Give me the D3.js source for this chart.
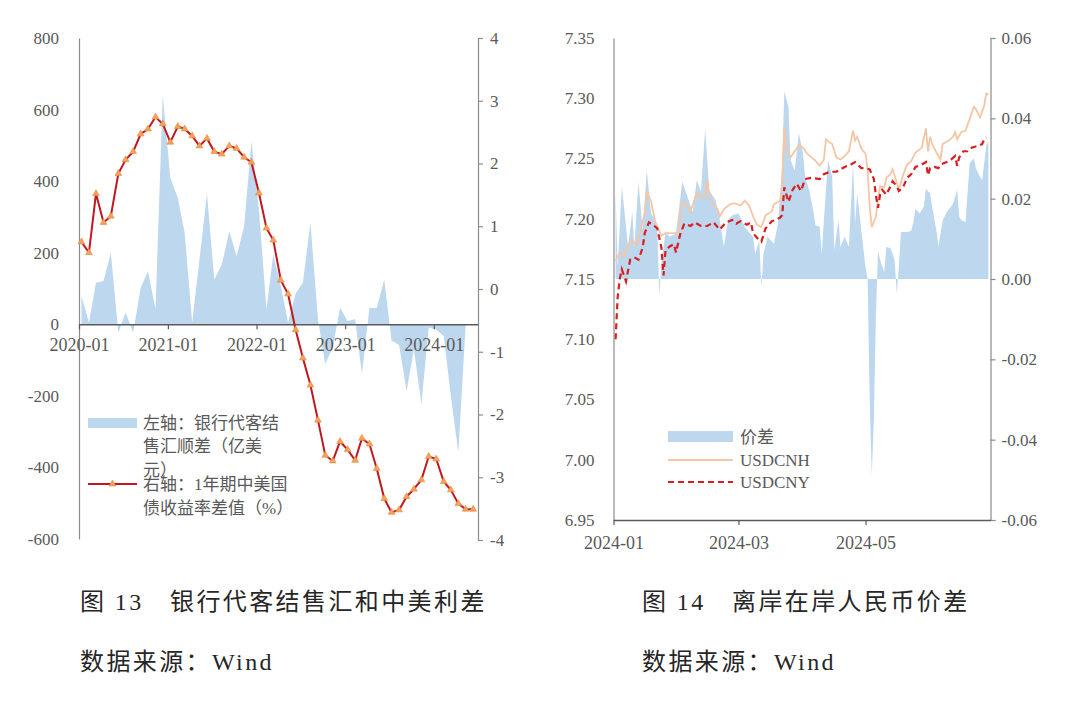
<!DOCTYPE html>
<html>
<head>
<meta charset="utf-8">
<script src="https://cdn.jsdelivr.net/npm/d3@7"></script>
<style>
  body { margin: 0; background: #fff; }
  text { font-family: "Liberation Serif", "Noto Sans CJK SC", serif; }
</style>
</head>
<body>
<div id="chart-area"></div>
<script>
// ---------------- 图13 data: monthly, 2020-01 .. 2024-06 ----------------
const firstMonth13 = "2020-01";
const endMonth13 = "2024-07"; // axis end
// 左轴：银行代客结售汇顺差（亿美元）, 2020-01 .. 2024-05
const fxSurplus = [79, 5, 116, 121, 200, -23, 33, -23, 102, 149, 42, 641,
  409, 353, 256, 5, 180, 365, 125, 167, 260, 190, 274, 511,
  320, 42, 195, 107, 5, 86, 116, 284, 15, -111, -65, 46,
  9, 14, -139, 46, 45, 125, -45, -58, -186, -70, -223, -9,
  -15, -33, -200, -358, -5];
// 右轴：1年期中美国债收益率差值（%）, 2020-01 .. 2024-06
const yieldGap = [0.75, 0.58, 1.52, 1.06, 1.16, 1.84, 2.06, 2.19, 2.47, 2.55, 2.74, 2.63,
  2.34, 2.59, 2.55, 2.44, 2.28, 2.40, 2.19, 2.15, 2.28, 2.24, 2.10, 2.02,
  1.53, 0.97, 0.78, 0.14, -0.08, -0.65, -1.10, -1.53, -2.09, -2.65, -2.74, -2.43,
  -2.56, -2.73, -2.38, -2.47, -2.86, -3.34, -3.56, -3.52, -3.31, -3.19, -3.04, -2.67,
  -2.71, -3.07, -3.20, -3.42, -3.51, -3.51];
const yearTicks13 = ["2020-01", "2021-01", "2022-01", "2023-01", "2024-01"];
const leftTicks13 = [-600, -400, -200, 0, 200, 400, 600, 800];
const rightTicks13 = [-4, -3, -2, -1, 0, 1, 2, 3, 4];

// ---------------- 图14 data: daily, 2024 ----------------
// 价差 (right axis)
const spreadSeries = [
  ["01-02", 0.0215], ["01-03", 0.003], ["01-05", 0.0231], ["01-08", 0.008], ["01-10", 0.0167],
  ["01-11", 0.008], ["01-13", 0.0242], ["01-15", 0.0121], ["01-17", 0.0271], ["01-19", 0.0163],
  ["01-22", 0.0138], ["01-23", -0.0045], ["01-24", 0.004], ["01-26", 0.0117], ["01-28", 0.0105],
  ["01-31", 0.0113], ["02-01", 0.0155], ["02-03", 0.0242], ["02-05", 0.0213], ["02-08", 0.0167],
  ["02-10", 0.0246], ["02-12", 0.0217], ["02-14", 0.0375], ["02-16", 0.0221], ["02-19", 0.0196],
  ["02-21", 0.0146], ["02-23", 0.008], ["02-25", 0.0146], ["02-27", 0.0159], ["03-01", 0.0163],
  ["03-04", 0.013], ["03-06", 0.0117], ["03-08", 0.0105], ["03-09", 0.0063], ["03-11", 0.0095],
  ["03-12", -0.002], ["03-13", 0.0063], ["03-15", 0.0105], ["03-18", 0.0088], ["03-20", 0.0138],
  ["03-22", 0.0288], ["03-23", 0.0467], ["03-25", 0.0429], ["03-26", 0.0296], ["03-28", 0.0271],
  ["03-30", 0.0363], ["04-01", 0.0313], ["04-02", 0.0254], ["04-04", 0.0221], ["04-06", 0.0167],
  ["04-07", 0.0134], ["04-09", 0.013], ["04-10", 0.0063], ["04-11", 0.0146], ["04-13", 0.0296],
  ["04-15", 0.0254], ["04-16", 0.0072], ["04-18", 0.0146], ["04-19", 0.008], ["04-21", 0.0105],
  ["04-23", 0.008], ["04-25", 0.0288], ["04-26", 0.0138], ["04-27", 0.0213], ["04-29", 0.012],
  ["05-01", 0.003], ["05-02", 0.0], ["05-03", -0.030], ["05-04", -0.049], ["05-05", -0.035],
  ["05-06", -0.009], ["05-07", 0.0072], ["05-08", 0.0047], ["05-10", 0.0017], ["05-11", 0.008],
  ["05-13", 0.0076], ["05-14", 0.0063], ["05-15", 0.0045], ["05-16", -0.0037], ["05-17", 0.003],
  ["05-18", 0.0117], ["05-21", 0.0117], ["05-23", 0.0121], ["05-24", 0.0142], ["05-25", 0.0175],
  ["05-27", 0.0163], ["05-29", 0.018], ["05-30", 0.0225], ["06-01", 0.0213], ["06-02", 0.018],
  ["06-04", 0.0121], ["06-05", 0.008], ["06-07", 0.0146], ["06-09", 0.0167], ["06-11", 0.018],
  ["06-12", 0.0188], ["06-14", 0.0221], ["06-15", 0.0155], ["06-16", 0.0146], ["06-18", 0.0142],
  ["06-20", 0.0288], ["06-22", 0.030], ["06-23", 0.0275], ["06-25", 0.0254], ["06-26", 0.0246],
  ["06-28", 0.0333], ["06-29", 0.0342]
];
// USDCNH (left axis)
const cnhSeries = [
  ["01-02", 7.165], ["01-04", 7.172], ["01-06", 7.168], ["01-08", 7.178], ["01-10", 7.183],
  ["01-12", 7.178], ["01-14", 7.190], ["01-16", 7.205], ["01-17", 7.222], ["01-19", 7.215],
  ["01-21", 7.197], ["01-23", 7.190], ["01-24", 7.186], ["01-26", 7.188], ["01-29", 7.188],
  ["02-01", 7.188], ["02-03", 7.214], ["02-05", 7.212], ["02-07", 7.206], ["02-10", 7.222],
  ["02-12", 7.218], ["02-14", 7.220], ["02-15", 7.232], ["02-16", 7.218], ["02-18", 7.211],
  ["02-20", 7.208], ["02-21", 7.202], ["02-23", 7.208], ["02-26", 7.212], ["02-28", 7.213],
  ["03-02", 7.211], ["03-04", 7.215], ["03-06", 7.211], ["03-07", 7.207], ["03-08", 7.202],
  ["03-10", 7.195], ["03-12", 7.193], ["03-14", 7.203], ["03-17", 7.206], ["03-18", 7.212],
  ["03-21", 7.215], ["03-22", 7.226], ["03-23", 7.276], ["03-24", 7.258], ["03-26", 7.251],
  ["03-28", 7.256], ["03-30", 7.261], ["04-01", 7.259], ["04-03", 7.254], ["04-07", 7.248],
  ["04-09", 7.244], ["04-11", 7.249], ["04-12", 7.266], ["04-14", 7.263], ["04-15", 7.262],
  ["04-17", 7.251], ["04-19", 7.249], ["04-21", 7.252], ["04-23", 7.256], ["04-25", 7.273],
  ["04-26", 7.265], ["04-27", 7.268], ["04-29", 7.258], ["05-01", 7.254], ["05-02", 7.241],
  ["05-03", 7.210], ["05-04", 7.193], ["05-06", 7.202], ["05-07", 7.216], ["05-08", 7.227],
  ["05-10", 7.226], ["05-11", 7.234], ["05-13", 7.237], ["05-14", 7.241], ["05-16", 7.230],
  ["05-17", 7.224], ["05-19", 7.236], ["05-21", 7.245], ["05-23", 7.248], ["05-25", 7.255],
  ["05-28", 7.259], ["05-30", 7.275], ["05-31", 7.256], ["06-01", 7.268], ["06-02", 7.262],
  ["06-04", 7.255], ["06-06", 7.249], ["06-07", 7.262], ["06-10", 7.265], ["06-12", 7.268],
  ["06-13", 7.272], ["06-14", 7.266], ["06-16", 7.272], ["06-18", 7.273], ["06-20", 7.283],
  ["06-22", 7.293], ["06-23", 7.291], ["06-25", 7.284], ["06-27", 7.294], ["06-28", 7.304],
  ["06-29", 7.303]
];
// USDCNY (left axis)
const cnySeries = [
  ["01-02", 7.100], ["01-03", 7.135], ["01-04", 7.150], ["01-05", 7.158], ["01-07", 7.148],
  ["01-09", 7.166], ["01-11", 7.168], ["01-13", 7.166], ["01-15", 7.176], ["01-16", 7.188],
  ["01-18", 7.197], ["01-20", 7.195], ["01-22", 7.192], ["01-24", 7.176], ["01-25", 7.153],
  ["01-26", 7.174], ["01-28", 7.177], ["01-30", 7.179], ["01-31", 7.172], ["02-02", 7.187],
  ["02-04", 7.196], ["02-07", 7.194], ["02-09", 7.197], ["02-12", 7.194], ["02-15", 7.194],
  ["02-18", 7.197], ["02-21", 7.191], ["02-24", 7.197], ["02-27", 7.199], ["02-29", 7.196],
  ["03-02", 7.198], ["03-05", 7.195], ["03-07", 7.197], ["03-08", 7.188], ["03-10", 7.184],
  ["03-12", 7.181], ["03-14", 7.192], ["03-17", 7.198], ["03-19", 7.199], ["03-21", 7.201],
  ["03-22", 7.203], ["03-23", 7.226], ["03-24", 7.220], ["03-25", 7.214], ["03-27", 7.224],
  ["03-29", 7.229], ["03-31", 7.223], ["04-02", 7.233], ["04-05", 7.234], ["04-09", 7.233],
  ["04-11", 7.237], ["04-14", 7.239], ["04-17", 7.239], ["04-19", 7.241], ["04-21", 7.243],
  ["04-24", 7.245], ["04-26", 7.247], ["04-29", 7.242], ["05-01", 7.242], ["05-03", 7.241],
  ["05-05", 7.233], ["05-06", 7.219], ["05-07", 7.209], ["05-08", 7.220], ["05-09", 7.224],
  ["05-11", 7.220], ["05-13", 7.227], ["05-14", 7.231], ["05-16", 7.227], ["05-17", 7.223],
  ["05-19", 7.226], ["05-21", 7.234], ["05-23", 7.237], ["05-25", 7.243], ["05-28", 7.245],
  ["05-30", 7.247], ["05-31", 7.236], ["06-01", 7.242], ["06-03", 7.243], ["06-05", 7.242],
  ["06-06", 7.245], ["06-09", 7.247], ["06-11", 7.249], ["06-13", 7.252], ["06-14", 7.244],
  ["06-15", 7.251], ["06-17", 7.256], ["06-19", 7.256], ["06-21", 7.259], ["06-24", 7.2605],
  ["06-26", 7.262], ["06-27", 7.266], ["06-28", 7.2675]
];
const monthTicks14 = ["2024-01", "2024-03", "2024-05"];
const leftTicks14 = [6.95, 7.00, 7.05, 7.10, 7.15, 7.20, 7.25, 7.30, 7.35];
const rightTicks14 = [-0.06, -0.04, -0.02, 0.00, 0.02, 0.04, 0.06];

(function () {
  const W = 1080, H = 706;
  const axisGrey = "#8c8c8c";
  const labelGrey = "#595959";
  const blue = "#BDD7EE";

  const svg = d3.select("#chart-area")
    .append("svg")
    .attr("width", W)
    .attr("height", H);

  svg.append("rect").attr("width", W).attr("height", H).attr("fill", "#fff");

  function styleAxis(g, size) {
    g.select(".domain").attr("stroke", axisGrey).attr("stroke-width", 1.2);
    g.selectAll(".tick line").attr("stroke", axisGrey).attr("stroke-width", 1.2);
    g.selectAll(".tick text")
      .attr("fill", labelGrey)
      .style("font-size", size + "px");
  }

  // ======================= 图13 =======================
  const parseMonth = d3.timeParse("%Y-%m");
  const months = d3.timeMonth.range(parseMonth(firstMonth13), parseMonth(endMonth13));
  const x13 = d3.scaleTime()
    .domain([parseMonth(firstMonth13), parseMonth(endMonth13)])
    .range([79, 478]);
  const yL13 = d3.scaleLinear().domain([-600, 800]).range([539, 38]);
  const yR13 = d3.scaleLinear().domain([-4, 4]).range([540, 38]);
  // points sit a little inside each month
  const xm = (i) => x13(d3.timeDay.offset(months[i], 10));

  // blue area (left axis)
  const area13 = d3.area()
    .x((d, i) => xm(i))
    .y0(yL13(0))
    .y1((d) => yL13(d));
  svg.append("path")
    .datum(fxSurplus)
    .attr("d", area13)
    .attr("fill", blue);

  // left axis
  const gL13 = svg.append("g")
    .attr("transform", "translate(79,0)")
    .call(d3.axisLeft(yL13).tickValues(leftTicks13).tickSize(0).tickPadding(20)
      .tickFormat((d) => String(d)));
  styleAxis(gL13, 17);

  // right axis
  const gR13 = svg.append("g")
    .attr("transform", "translate(478,0)")
    .call(d3.axisRight(yR13).tickValues(rightTicks13).tickSize(5).tickSizeOuter(5).tickPadding(7)
      .tickFormat((d) => String(d)));
  styleAxis(gR13, 17);

  // x axis on the zero line
  const gX13 = svg.append("g")
    .attr("transform", `translate(0,${yL13(0)})`)
    .call(d3.axisBottom(x13).tickValues(yearTicks13.map(parseMonth)).tickSize(5).tickSizeOuter(0)
      .tickPadding(9).tickFormat(d3.timeFormat("%Y-%m")));
  styleAxis(gX13, 18);
  gX13.select(".domain").attr("stroke", "#5a5a5a").attr("stroke-width", 1.6);
  gX13.selectAll(".tick line").attr("stroke", "#5a5a5a");

  // red line with triangle markers (right axis)
  const line13 = d3.line()
    .x((d, i) => xm(i))
    .y((d) => yR13(d));
  svg.append("path")
    .datum(yieldGap)
    .attr("d", line13)
    .attr("fill", "none")
    .attr("stroke", "#C0181E")
    .attr("stroke-width", 2);

  const tri = d3.symbol(d3.symbolTriangle).size(20);
  svg.append("g")
    .selectAll("path")
    .data(yieldGap)
    .join("path")
    .attr("d", tri)
    .attr("transform", (d, i) => `translate(${xm(i)},${yR13(d)})`)
    .attr("fill", "#F2A25C")
    .attr("stroke", "#E88A3C")
    .attr("stroke-width", 0.6);

  // legend 13
  const lg13 = svg.append("g").style("font-size", "17px").attr("fill", labelGrey);
  lg13.append("rect").attr("x", 88).attr("y", 418).attr("width", 49).attr("height", 10).attr("fill", blue);
  ["左轴：银行代客结", "售汇顺差（亿美", "元）"].forEach((t, i) => {
    lg13.append("text").attr("x", 143).attr("y", 423 + i * 23.5).attr("dy", "0.35em").text(t);
  });
  lg13.append("line").attr("x1", 88).attr("x2", 137).attr("y1", 484).attr("y2", 484)
    .attr("stroke", "#C0181E").attr("stroke-width", 2);
  lg13.append("path").attr("d", tri).attr("transform", "translate(112.5,484)")
    .attr("fill", "#F2A25C").attr("stroke", "#E88A3C").attr("stroke-width", 0.6);
  ["右轴：1年期中美国", "债收益率差值（%）"].forEach((t, i) => {
    lg13.append("text").attr("x", 143).attr("y", 484 + i * 24.5).attr("dy", "0.35em").text(t);
  });

  // ======================= 图14 =======================
  const parseDay = (s) => d3.timeParse("%Y-%m-%d")("2024-" + s);
  const x14 = d3.scaleTime()
    .domain([new Date(2024, 0, 1), new Date(2024, 5, 30)])
    .range([613.5, 990.5]);
  const yL14 = d3.scaleLinear().domain([6.95, 7.35]).range([520, 38]);
  const yR14 = d3.scaleLinear().domain([-0.06, 0.06]).range([520, 38]);

  const area14 = d3.area()
    .x((d) => x14(parseDay(d[0])))
    .y0(yR14(0))
    .y1((d) => yR14(d[1]));
  svg.append("path")
    .datum(spreadSeries)
    .attr("d", area14)
    .attr("fill", blue);

  const line14 = d3.line()
    .x((d) => x14(parseDay(d[0])))
    .y((d) => yL14(d[1]));

  svg.append("path")
    .datum(cnhSeries)
    .attr("d", line14)
    .attr("fill", "none")
    .attr("stroke", "#F5C6A5")
    .attr("stroke-width", 1.8);

  svg.append("path")
    .datum(cnySeries)
    .attr("d", line14)
    .attr("fill", "none")
    .attr("stroke", "#D81E1E")
    .attr("stroke-width", 2.2)
    .attr("stroke-dasharray", "6,4");

  const gL14 = svg.append("g")
    .attr("transform", "translate(613.5,0)")
    .call(d3.axisLeft(yL14).tickValues(leftTicks14).tickSize(0).tickPadding(19)
      .tickFormat((d) => d.toFixed(2)));
  styleAxis(gL14, 17);

  const gR14 = svg.append("g")
    .attr("transform", "translate(990.5,0)")
    .call(d3.axisRight(yR14).tickValues(rightTicks14).tickSize(5).tickSizeOuter(5).tickPadding(6)
      .tickFormat((d) => d.toFixed(2)));
  styleAxis(gR14, 17);

  const gX14 = svg.append("g")
    .attr("transform", "translate(0,520)")
    .call(d3.axisBottom(x14).tickValues(monthTicks14.map(parseMonth)).tickSize(5).tickSizeOuter(0)
      .tickPadding(11).tickFormat(d3.timeFormat("%Y-%m")));
  styleAxis(gX14, 18);
  gX14.select(".domain").attr("stroke", "#5a5a5a").attr("stroke-width", 1.4);
  gX14.selectAll(".tick line").attr("stroke", "#5a5a5a");

  // legend 14
  const lg14 = svg.append("g").style("font-size", "17px").attr("fill", labelGrey);
  lg14.append("rect").attr("x", 668).attr("y", 431).attr("width", 65).attr("height", 11).attr("fill", blue);
  lg14.append("text").attr("x", 740).attr("y", 437).attr("dy", "0.35em").text("价差");
  lg14.append("line").attr("x1", 668).attr("x2", 733).attr("y1", 460).attr("y2", 460)
    .attr("stroke", "#F5C6A5").attr("stroke-width", 1.8);
  lg14.append("text").attr("x", 740).attr("y", 460).attr("dy", "0.35em").text("USDCNH");
  lg14.append("line").attr("x1", 668).attr("x2", 733).attr("y1", 482).attr("y2", 482)
    .attr("stroke", "#D81E1E").attr("stroke-width", 2.2).attr("stroke-dasharray", "6,4");
  lg14.append("text").attr("x", 740).attr("y", 482).attr("dy", "0.35em").text("USDCNY");

  // ======================= captions =======================
  const caps = svg.append("g").attr("fill", "#262626").style("font-size", "24px")
    .style("letter-spacing", "2.4px");
  caps.append("text").attr("x", 80).attr("y", 610).text("图 13　银行代客结售汇和中美利差");
  caps.append("text").attr("x", 80).attr("y", 670).text("数据来源：Wind");
  caps.append("text").attr("x", 642).attr("y", 610).text("图 14　离岸在岸人民币价差");
  caps.append("text").attr("x", 642).attr("y", 670).text("数据来源：Wind");
})();
</script>
</body>
</html>
